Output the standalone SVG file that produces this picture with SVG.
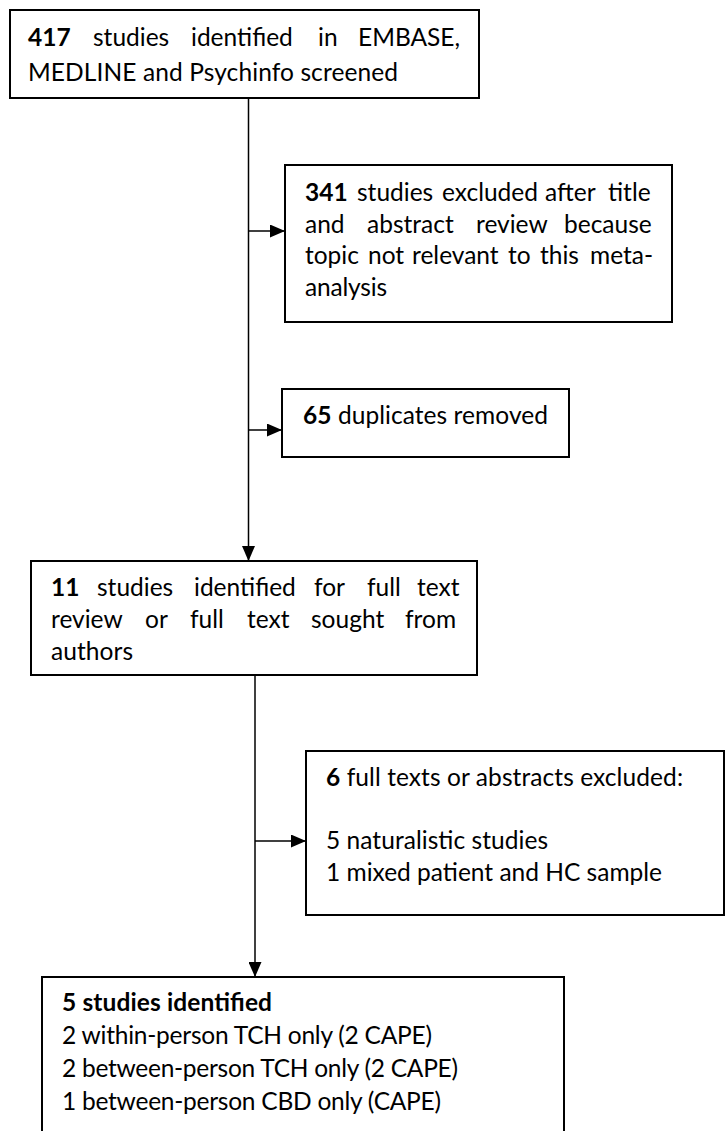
<svg xmlns="http://www.w3.org/2000/svg" width="726" height="1131" viewBox="0 0 726 1131">
<style>
.box{fill:#fff;stroke:#000;stroke-width:2}
.t{font-family:Lato,"Liberation Sans",sans-serif;font-size:24.5px;fill:#000}
.b{font-weight:bold}
.c{stroke:#000;stroke-width:1.5;fill:none}
</style>
<defs>
<marker id="ah" viewBox="0 0 15 13" refX="15" refY="6.5" markerWidth="15" markerHeight="13" markerUnits="userSpaceOnUse" orient="auto">
<path d="M0,0 L15,6.5 L0,13 Z" fill="#000"/>
</marker>
</defs>
<rect width="726" height="1131" fill="#fff"/>
<g id="connectors">
<line class="c" x1="248.5" y1="98" x2="248.5" y2="561" marker-end="url(#ah)"/>
<line class="c" x1="248.5" y1="231" x2="285" y2="231" marker-end="url(#ah)"/>
<line class="c" x1="248.5" y1="430" x2="282" y2="430" marker-end="url(#ah)"/>
<line class="c" x1="255" y1="675" x2="255" y2="977" marker-end="url(#ah)"/>
<line class="c" x1="255" y1="841" x2="306" y2="841" marker-end="url(#ah)"/>
</g>
<g id="n1">
<rect class="box" x="10" y="10" width="469" height="88"/>
<text class="t b" x="28" y="46">417</text>
<text class="t" x="93" y="46">studies</text>
<text class="t" x="191" y="46">identified</text>
<text class="t" x="318" y="46">in</text>
<text class="t" x="358" y="46">EMBASE,</text>
<text class="t" x="28" y="81" textLength="370">MEDLINE and Psychinfo screened</text>
</g>
<g id="n2">
<rect class="box" x="285" y="165" width="387" height="157"/>
<text class="t b" x="305" y="201">341</text>
<text class="t" x="357" y="201">studies</text>
<text class="t" x="442" y="201">excluded</text>
<text class="t" x="545" y="201">after</text>
<text class="t" x="608" y="201">title</text>
<text class="t" x="305" y="233">and</text>
<text class="t" x="367" y="233">abstract</text>
<text class="t" x="476" y="233">review</text>
<text class="t" x="564" y="233">because</text>
<text class="t" x="305" y="264">topic</text>
<text class="t" x="368" y="264">not</text>
<text class="t" x="412" y="264">relevant</text>
<text class="t" x="508" y="264">to</text>
<text class="t" x="540" y="264">this</text>
<text class="t" x="590" y="264">meta-</text>
<text class="t" x="305" y="296" textLength="82">analysis</text>
</g>
<g id="n3">
<rect class="box" x="282" y="389" width="287" height="68"/>
<text class="t" x="303" y="424" textLength="245"><tspan class="b">65</tspan> duplicates removed</text>
</g>
<g id="n4">
<rect class="box" x="31" y="561" width="446" height="114"/>
<text class="t b" x="51" y="596">11</text>
<text class="t" x="97" y="596">studies</text>
<text class="t" x="194" y="596">identified</text>
<text class="t" x="314" y="596">for</text>
<text class="t" x="367" y="596">full</text>
<text class="t" x="417" y="596">text</text>
<text class="t" x="51" y="628">review</text>
<text class="t" x="145" y="628">or</text>
<text class="t" x="190" y="628">full</text>
<text class="t" x="247" y="628">text</text>
<text class="t" x="311" y="628">sought</text>
<text class="t" x="405" y="628">from</text>
<text class="t" x="51" y="660" textLength="82">authors</text>
</g>
<g id="n5">
<rect class="box" x="306" y="751" width="418" height="164"/>
<text class="t" x="326" y="786" textLength="357"><tspan class="b">6</tspan> full texts or abstracts excluded:</text>
<text class="t" x="326" y="849" textLength="222">5 naturalistic studies</text>
<text class="t" x="326" y="881" textLength="336">1 mixed patient and HC sample</text>
</g>
<g id="n6">
<rect class="box" x="42" y="977" width="522" height="170"/>
<text class="t b" x="62" y="1011" textLength="210">5 studies identified</text>
<text class="t" x="62" y="1044" textLength="370">2 within-person TCH only (2 CAPE)</text>
<text class="t" x="62" y="1077" textLength="396">2 between-person TCH only (2 CAPE)</text>
<text class="t" x="62" y="1110" textLength="379">1 between-person CBD only (CAPE)</text>
</g>
</svg>
